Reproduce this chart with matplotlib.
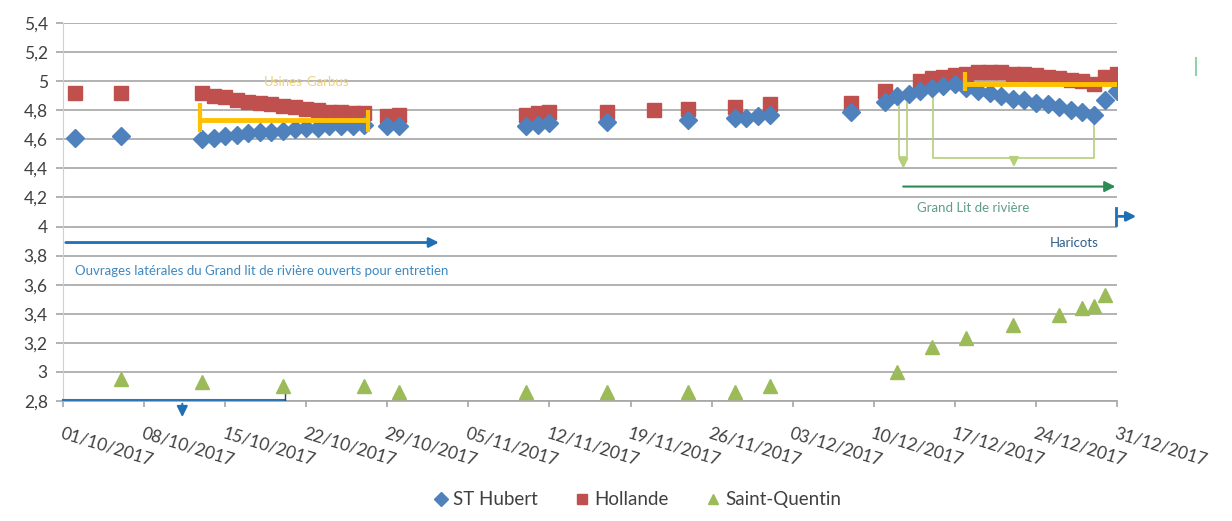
import matplotlib
matplotlib.use("Agg")
import matplotlib.pyplot as plt
import matplotlib.dates as mdates
import pandas as pd
from datetime import datetime

plt.rcParams['font.family'] = ['Lato', 'DejaVu Sans']

# ---------------- data ----------------
hubert_dates = ['2017-10-02', '2017-10-06',
                '2017-10-13', '2017-10-14', '2017-10-15', '2017-10-16', '2017-10-17',
                '2017-10-18', '2017-10-19', '2017-10-20', '2017-10-21', '2017-10-22',
                '2017-10-23', '2017-10-24', '2017-10-25', '2017-10-26', '2017-10-27',
                '2017-10-29', '2017-10-30',
                '2017-11-10', '2017-11-11', '2017-11-12', '2017-11-17', '2017-11-24',
                '2017-11-28', '2017-11-29', '2017-11-30', '2017-12-01', '2017-12-08',
                '2017-12-11', '2017-12-12', '2017-12-13', '2017-12-14', '2017-12-15',
                '2017-12-16', '2017-12-17', '2017-12-18', '2017-12-19', '2017-12-20',
                '2017-12-21', '2017-12-22', '2017-12-23', '2017-12-24', '2017-12-25',
                '2017-12-26', '2017-12-27', '2017-12-28', '2017-12-29', '2017-12-30',
                '2017-12-31']
hubert_vals = [4.61, 4.62,
               4.60, 4.61, 4.62, 4.63, 4.64,
               4.65, 4.65, 4.66, 4.67, 4.68,
               4.68, 4.69, 4.69, 4.69, 4.70,
               4.69, 4.69,
               4.69, 4.70, 4.71, 4.72, 4.73,
               4.75, 4.75, 4.76, 4.77, 4.79,
               4.86, 4.90, 4.91, 4.93, 4.95,
               4.97, 4.98, 4.95, 4.93, 4.92,
               4.90, 4.88, 4.87, 4.85, 4.84,
               4.82, 4.80, 4.79, 4.77, 4.87,
               4.93]

hollande_dates = ['2017-10-02', '2017-10-06',
                  '2017-10-13', '2017-10-14', '2017-10-15', '2017-10-16', '2017-10-17',
                  '2017-10-18', '2017-10-19', '2017-10-20', '2017-10-21', '2017-10-22',
                  '2017-10-23', '2017-10-24', '2017-10-25', '2017-10-26', '2017-10-27',
                  '2017-10-29', '2017-10-30',
                  '2017-11-10', '2017-11-11', '2017-11-12', '2017-11-17', '2017-11-21',
                  '2017-11-24', '2017-11-28', '2017-12-01', '2017-12-08', '2017-12-11',
                  '2017-12-14', '2017-12-15', '2017-12-16', '2017-12-17', '2017-12-18',
                  '2017-12-19', '2017-12-20', '2017-12-21', '2017-12-22', '2017-12-23',
                  '2017-12-24', '2017-12-25', '2017-12-26', '2017-12-27', '2017-12-28',
                  '2017-12-29', '2017-12-30', '2017-12-31']
hollande_vals = [4.92, 4.92,
                 4.92, 4.90, 4.89, 4.87, 4.86,
                 4.85, 4.84, 4.83, 4.82, 4.81,
                 4.80, 4.79, 4.79, 4.78, 4.78,
                 4.76, 4.77,
                 4.77, 4.78, 4.79, 4.79, 4.80,
                 4.81, 4.82, 4.84, 4.85, 4.93,
                 5.00, 5.02, 5.03, 5.04, 5.05,
                 5.06, 5.06, 5.06, 5.05, 5.05,
                 5.04, 5.03, 5.02, 5.01, 5.00,
                 4.98, 5.03, 5.05]

stq_dates = ['2017-10-06', '2017-10-13', '2017-10-20', '2017-10-27', '2017-10-30',
             '2017-11-10', '2017-11-17', '2017-11-24', '2017-11-28', '2017-12-01',
             '2017-12-12', '2017-12-15', '2017-12-18', '2017-12-22', '2017-12-26',
             '2017-12-28', '2017-12-29', '2017-12-30']
stq_vals = [2.95, 2.93, 2.90, 2.90, 2.86,
            2.86, 2.86, 2.86, 2.86, 2.90,
            3.00, 3.17, 3.23, 3.32, 3.39,
            3.44, 3.45, 3.53]

y_ticks = [2.8, 3.0, 3.2, 3.4, 3.6, 3.8, 4.0, 4.2, 4.4, 4.6, 4.8, 5.0, 5.2, 5.4]
y_ticklabels = ['2,8', '3', '3,2', '3,4', '3,6', '3,8', '4', '4,2', '4,4', '4,6',
                '4,8', '5', '5,2', '5,4']
x_tick_dates = ['2017-10-01', '2017-10-08', '2017-10-15', '2017-10-22', '2017-10-29',
                '2017-11-05', '2017-11-12', '2017-11-19', '2017-11-26', '2017-12-03',
                '2017-12-10', '2017-12-17', '2017-12-24', '2017-12-31']

series_names = ['ST Hubert', 'Hollande', 'Saint-Quentin']

# ---------------- styling ----------------
BLUE = '#4F81BD'
RED = '#C0504D'
GREEN = '#9BBB59'
YELLOW = '#FFC000'
GRID = '#A6A6A6'
TXT = '#404040'

fig = plt.figure(figsize=(12.32, 5.21), dpi=100)
ax = fig.add_axes([63 / 1232, 1 - 401 / 521, (1117 - 63) / 1232, (401 - 23) / 521])

base = mdates.date2num(datetime(2017, 10, 1))


def D(n):
    return base + n


def to_num(lst):
    return mdates.date2num(pd.to_datetime(lst).to_pydatetime())


ax.plot(to_num(hubert_dates), hubert_vals, linestyle='none', marker='D', markersize=9,
        color=BLUE, label=series_names[0], zorder=4)
ax.plot(to_num(hollande_dates), hollande_vals, linestyle='none', marker='s', markersize=10,
        color=RED, label=series_names[1], zorder=3)
ax.plot(to_num(stq_dates), stq_vals, linestyle='none', marker='^', markersize=10.5,
        color=GREEN, label=series_names[2], zorder=4)

ax.set_xlim(D(0), D(91))
ax.set_ylim(2.8, 5.4)
ax.set_yticks(y_ticks)
ax.set_yticklabels(y_ticklabels)
xt = to_num(x_tick_dates)
ax.set_xticks(xt)
ax.set_xticklabels([pd.Timestamp(d).strftime('%d/%m/%Y') for d in x_tick_dates],
                   rotation=-17, ha='left', va='top', rotation_mode='anchor')

ax.grid(axis='y', color=GRID, linewidth=1.2)
ax.set_axisbelow(True)
for s in ['top', 'right']:
    ax.spines[s].set_visible(False)
ax.spines['left'].set_color('#D0D0D0')
ax.spines['bottom'].set_color(GRID)
ax.spines['bottom'].set_linewidth(1.2)
ax.tick_params(axis='y', length=5, color=GRID, width=1.2, labelsize=12.5,
               labelcolor=TXT, pad=6)
ax.tick_params(axis='x', length=4, color=GRID, width=1.2, labelsize=12.5,
               labelcolor=TXT, pad=13, direction='out')

# ---------------- annotations ----------------
# yellow bracket (left)
ax.plot([D(11.8), D(11.8)], [4.65, 4.85], color=YELLOW, lw=3, zorder=5, solid_capstyle='butt')
ax.plot([D(11.8), D(26.3)], [4.735, 4.735], color=YELLOW, lw=3.5, zorder=5, solid_capstyle='butt')
ax.plot([D(26.3), D(26.3)], [4.65, 4.80], color=YELLOW, lw=3, zorder=5, solid_capstyle='butt')
ax.text(D(21), 4.995, 'Usines-Garbus', color='#EED27A', fontsize=9.5, ha='center',
        va='center', zorder=6)

# yellow (right)
ax.plot([D(77.9), D(77.9)], [4.93, 5.06], color=YELLOW, lw=3, zorder=5, solid_capstyle='butt')
ax.plot([D(77.9), D(91)], [4.98, 4.98], color=YELLOW, lw=3.5, zorder=5, solid_capstyle='butt')

# green brackets
LG = '#B5CF7A'
ax.plot([D(72.2), D(72.2), D(72.9), D(72.9)], [4.85, 4.48, 4.48, 4.85], color=LG, lw=1.2, zorder=2)
ax.annotate('', xy=(D(72.55), 4.38), xytext=(D(72.55), 4.48),
            arrowprops=dict(arrowstyle='-|>', color=LG, lw=1.5, mutation_scale=14))
ax.plot([D(75.1), D(75.1), D(89.0), D(89.0)], [4.93, 4.47, 4.47, 4.74], color=LG, lw=1.2, zorder=2)
ax.annotate('', xy=(D(82.1), 4.39), xytext=(D(82.1), 4.47),
            arrowprops=dict(arrowstyle='-|>', color=LG, lw=1.5, mutation_scale=14))

# green arrow "Grand Lit de rivière"
ax.annotate('', xy=(D(91.1), 4.275), xytext=(D(72.3), 4.275),
            arrowprops=dict(arrowstyle='-|>', color='#2E8B57', lw=1.5, mutation_scale=16),
            annotation_clip=False)
ax.text(D(73.7), 4.13, 'Grand Lit de rivière', color='#5E9E88', fontsize=9.5,
        ha='left', va='center')

# blue "Haricots"
ax.plot([D(90.9), D(90.9)], [4.01, 4.13], color='#1F6FB5', lw=2, clip_on=False)
ax.annotate('', xy=(D(92.9), 4.07), xytext=(D(90.9), 4.07),
            arrowprops=dict(arrowstyle='-|>', color='#1F6FB5', lw=2, mutation_scale=14),
            annotation_clip=False)
ax.text(D(89.4), 3.89, 'Haricots', color='#2F5F8A', fontsize=9.5, ha='right', va='center')

# blue arrow top-left
ax.annotate('', xy=(D(32.7), 3.89), xytext=(D(0), 3.89),
            arrowprops=dict(arrowstyle='-|>', color='#1F6FB5', lw=2, mutation_scale=14))
ax.text(D(1.0), 3.695, 'Ouvrages latérales du Grand lit de rivière ouverts pour entretien',
        color='#3F88C0', fontsize=9.5, ha='left', va='center')

# blue line bottom-left
ax.plot([D(0), D(19.2)], [2.81, 2.81], color='#2E75B6', lw=1.5, zorder=3, clip_on=False)
ax.annotate('', xy=(D(10.3), 2.67), xytext=(D(10.3), 2.80),
            arrowprops=dict(arrowstyle='-|>', color='#1F6FB5', lw=1.5, mutation_scale=16),
            annotation_clip=False)
ax.plot([D(19.2), D(19.2)], [2.80, 2.89], color='#404040', lw=1, zorder=3)

# small green mark outside right
ax.plot([D(97.8), D(97.8)], [5.04, 5.16], color='#8FD3A8', lw=1.5, clip_on=False)

# legend
fig.legend(loc='lower center', bbox_to_anchor=(0.517, -0.008), ncol=3, frameon=False,
           fontsize=13.5, handletextpad=0.2, columnspacing=1.9, handlelength=0.9,
           markerscale=0.75, labelcolor=TXT)

fig.savefig('out.png', dpi=100)
